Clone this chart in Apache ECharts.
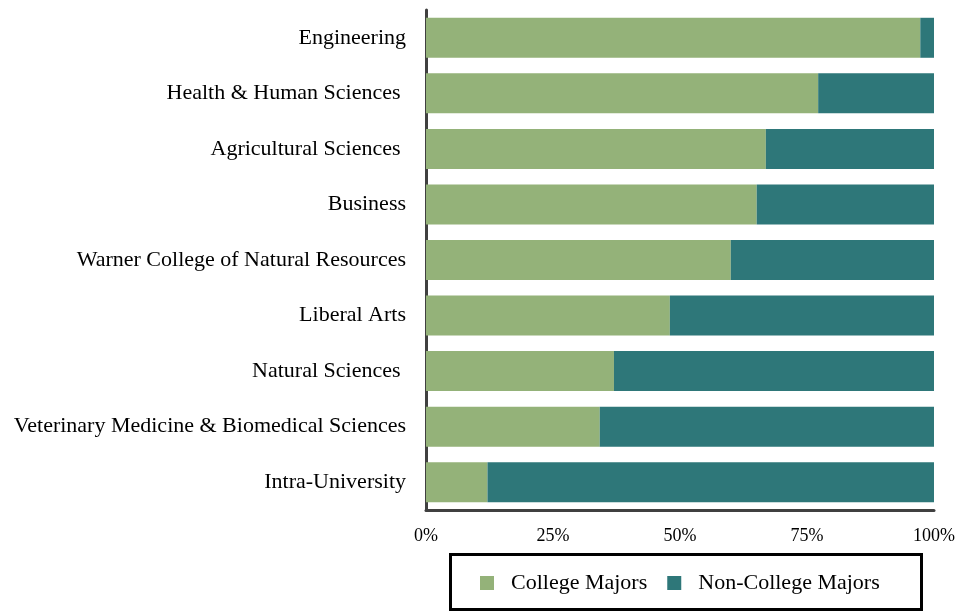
<!DOCTYPE html>
<html>
<head>
<meta charset="utf-8">
<script src="https://cdn.jsdelivr.net/npm/echarts@6/dist/echarts.min.js"></script>
<style>html,body{margin:0;padding:0;background:#fff}#c{width:958px;height:611px}</style>
</head>
<body>
<div id="c"></div>
<script>
const categories = ["Engineering", "Health & Human Sciences ", "Agricultural Sciences ", "Business", "Warner College of Natural Resources", "Liberal Arts", "Natural Sciences ", "Veterinary Medicine & Biomedical Sciences", "Intra-University"];
const collegeMajors = [97.3, 77.2, 66.9, 65.1, 60.0, 48.0, 37.0, 34.2, 12.1];
const nonCollegeMajors = [2.7, 22.8, 33.1, 34.9, 40.0, 52.0, 63.0, 65.8, 87.9];
const seriesNames = ["College Majors", "Non-College Majors"];
const xTicks = [0, 25, 50, 75, 100];

const FONT = '"Liberation Serif", "DejaVu Serif", serif';
const chart = echarts.init(document.getElementById('c'), null, {renderer: 'canvas'});
chart.setOption({
  animation: false,
  textStyle: {fontFamily: FONT},
  grid: {left: 426, right: 24, top: 10, bottom: 101, containLabel: false},
  xAxis: {
    type: 'value', min: xTicks[0], max: xTicks[xTicks.length - 1], interval: 25,
    axisLine: {show: true, lineStyle: {color: '#404040', width: 3}},
    axisTick: {show: false},
    splitLine: {show: false},
    axisLabel: {formatter: v => v + '%', fontSize: 18, color: '#000', margin: 17, fontFamily: FONT}
  },
  yAxis: {
    type: 'category', data: categories, inverse: true,
    axisLine: {show: true, lineStyle: {color: '#404040', width: 3}},
    axisTick: {show: false},
    axisLabel: {fontSize: 22, color: '#000', margin: 20, fontFamily: FONT}
  },
  legend: {
    data: seriesNames,
    left: 480, top: 572, padding: 0,
    icon: 'rect', itemWidth: 14, itemHeight: 14, itemGap: 20,
    textStyle: {fontSize: 22, color: '#000', fontFamily: FONT, padding: [0, 0, 0, 12]}
  },
  graphic: [{
    type: 'rect', left: 448, top: 552,
    shape: {width: 471, height: 55},
    style: {fill: 'none', stroke: '#000', lineWidth: 3}
  }],
  series: [
    {name: seriesNames[0], type: 'bar', stack: 'a', data: collegeMajors, barWidth: 40,
     itemStyle: {color: '#94B279'}},
    {name: seriesNames[1], type: 'bar', stack: 'a', data: nonCollegeMajors, barWidth: 40,
     itemStyle: {color: '#2E7779'}}
  ]
});
</script>
</body>
</html>
